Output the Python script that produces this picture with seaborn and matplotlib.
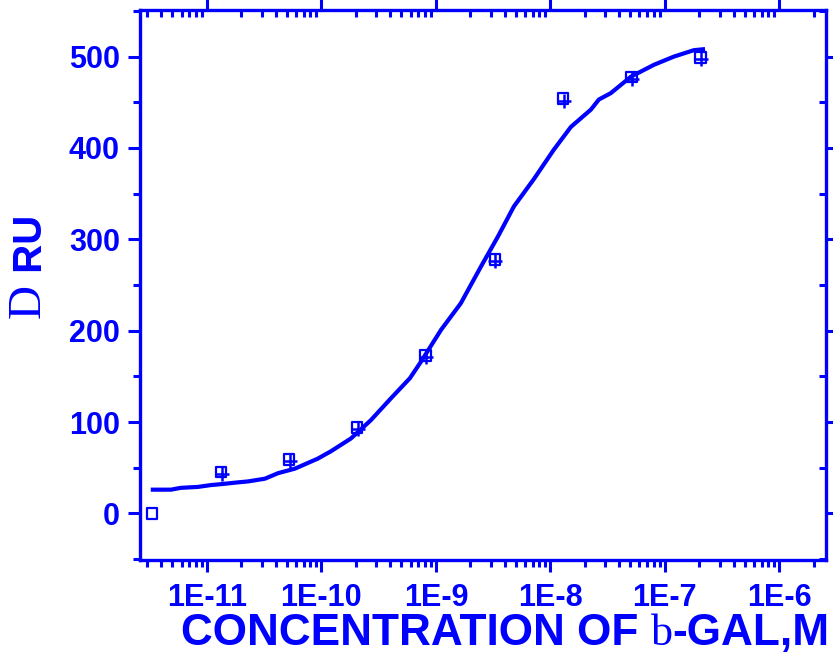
import numpy as np
import pandas as pd
import seaborn as sns
import matplotlib.pyplot as plt
from matplotlib.ticker import LogLocator, FixedLocator, MultipleLocator, NullFormatter

BLUE = '#0000FF'

# measured points (two overlapping replicate symbols)
conc_sq = [3.3e-12, 1.33e-11, 5.2e-11, 2.05e-10, 8.1e-10, 3.27e-9, 1.29e-8, 5.1e-8, 2.05e-7]
ru_sq = [0, 45, 59, 94, 173, 278, 454, 478, 499]
conc_plus = [1.36e-11, 5.3e-11, 2.08e-10, 8.2e-10, 3.3e-9, 1.31e-8, 5.2e-8, 2.06e-7]
ru_plus = [43, 57, 92, 171, 276, 451, 476, 497]

# fitted curve
conc_fit = [3.37e-12, 4.85e-12, 5.93e-12, 8.34e-12, 1.08e-11, 1.32e-11, 1.87e-11, 2.28e-11,
            3.21e-11, 4.17e-11, 5.87e-11, 9.31e-11, 1.21e-10, 1.81e-10, 2.70e-10, 4.05e-10,
            5.93e-10, 7.40e-10, 1.11e-9, 1.65e-9, 2.47e-9, 3.48e-9, 4.80e-9, 7.18e-9,
            1.07e-8, 1.51e-8, 2.26e-8, 2.65e-8, 3.37e-8, 5.05e-8, 8.02e-8, 1.20e-7,
            1.79e-7, 2.15e-7]
ru_fit = [26, 26, 28, 29, 31, 32, 34, 35, 38, 44, 49, 60, 68, 82, 102, 126,
          148, 166, 201, 230, 270, 303, 336, 366, 398, 423, 442, 453, 460, 478, 491, 500,
          507, 508]

xticks = [1e-11, 1e-10, 1e-9, 1e-8, 1e-7, 1e-6]
xtick_labels = ['1E-11', '1E-10', '1E-9', '1E-8', '1E-7', '1E-6']
yticks = [0, 100, 200, 300, 400, 500]

sans = 'Liberation Sans'
serif = 'Liberation Serif'

fig = plt.figure(figsize=(8.33, 6.53), dpi=100)
ax = fig.add_axes([0.168, 0.1424, 0.8235, 0.8423])

fit = pd.DataFrame({'conc': conc_fit, 'ru': ru_fit})
sns.lineplot(data=fit, x='conc', y='ru', ax=ax, color=BLUE, linewidth=3, sort=False)
sns.scatterplot(x=conc_sq, y=ru_sq, ax=ax, marker='s', s=55, facecolors='none',
                edgecolor=BLUE, linewidth=1.6, zorder=3)
sns.scatterplot(x=conc_plus, y=ru_plus, ax=ax, marker='+', s=90, color=BLUE,
                linewidth=1.8, zorder=3)

ax.set_xscale('log')
ax.set_xlim(2.6e-12, 2.55e-6)
ax.set_ylim(-51, 551)

ax.xaxis.set_major_locator(FixedLocator(xticks))
ax.set_xticklabels(xtick_labels)
ax.xaxis.set_minor_locator(LogLocator(base=10, subs=np.arange(2, 10), numticks=20))
ax.xaxis.set_minor_formatter(NullFormatter())
ax.yaxis.set_major_locator(FixedLocator(yticks))
ax.yaxis.set_minor_locator(MultipleLocator(50))

for s in ax.spines.values():
    s.set_color(BLUE)
    s.set_linewidth(2.4)

ax.tick_params(which='both', colors=BLUE, width=2.2)
ax.tick_params(which='major', length=8.5)
ax.tick_params(which='minor', length=5)
ax.tick_params(axis='x', which='both', top=True, direction='out')
ax.tick_params(axis='y', which='both', right=True, direction='out')
# mirrored ticks on top / right point inward
for t in ax.xaxis.get_major_ticks() + ax.xaxis.get_minor_ticks():
    t.tick2line.set_marker(3)
for t in ax.yaxis.get_major_ticks() + ax.yaxis.get_minor_ticks():
    t.tick2line.set_marker(0)
ax.tick_params(axis='x', labelsize=22, pad=8)
ax.tick_params(axis='y', labelsize=22, pad=6)
for lab in ax.get_xticklabels() + ax.get_yticklabels():
    lab.set_fontfamily(sans)
    lab.set_fontweight('bold')
    lab.set_color(BLUE)

ax.set_xlabel('')
ax.set_ylabel('')

# x label with a symbol-font beta rendered as serif "b"
t1 = fig.text(181 / 833, 1 - 645 / 653, 'CONCENTRATION OF ', fontsize=31.8, fontweight='bold',
              family=sans, color=BLUE, ha='left', va='baseline')
t2 = ax.annotate('b', xy=(1, 0), xycoords=t1, fontsize=31.8, family=serif, color=BLUE,
                 ha='left', va='bottom', annotation_clip=False)
ax.annotate('-GAL,M', xy=(1, 0), xycoords=t2, fontsize=31.8, fontweight='bold',
            family=sans, color=BLUE, ha='left', va='bottom', annotation_clip=False)

# y label: "D" (delta) + RU
d = fig.text(50 / 833, 1 - 318 / 653, 'D', fontsize=34, family=serif, color=BLUE,
             rotation=90, ha='right', va='bottom')
ax.annotate(' RU', xy=(1, 1), xycoords=d, fontsize=29, fontweight='bold', family=sans,
            color=BLUE, rotation=90, ha='right', va='bottom', annotation_clip=False)

fig.savefig('out.png', dpi=100)
